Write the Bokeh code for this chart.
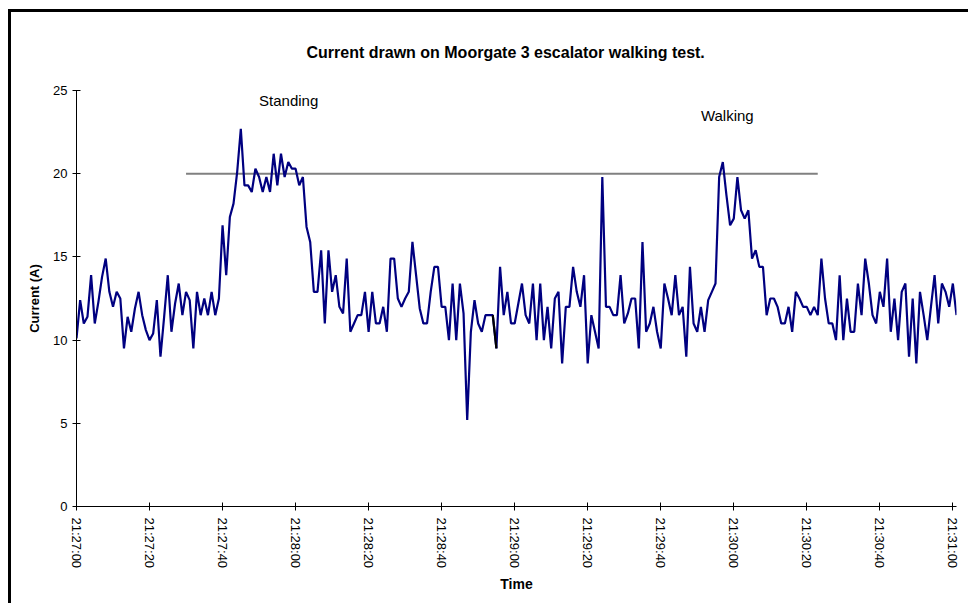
import numpy as np
from bokeh.plotting import figure
from bokeh.models import Range1d, FixedTicker, Label, ColumnDataSource
from bokeh.embed import file_html
from bokeh.resources import INLINE

# ---------------- data ----------------
start_time = "21:27:00"
sample_interval_s = 1

# current (A), one sample per second
current_min1 = [10.1, 12.4, 11.0, 11.4, 13.9, 11.0, 12.3, 13.8, 14.9, 12.9,
                12.0, 12.9, 12.5, 9.5, 11.4, 10.5, 11.9, 12.9, 11.5, 10.6,
                10.0, 10.4, 12.4, 9.0, 11.4, 13.9, 10.5, 12.2, 13.4, 11.5,
                12.9, 12.4, 9.5, 12.9, 11.5, 12.5, 11.5, 12.9, 11.5, 12.5,
                16.9, 13.9, 17.4, 18.2, 20.1, 22.7, 19.3, 19.3, 18.9, 20.3,
                19.8, 18.9, 19.8, 18.9, 21.2, 19.3, 21.2, 19.8, 20.7, 20.3]
current_min2 = [20.3, 19.3, 19.8, 16.8, 15.9, 12.9, 12.9, 15.4, 11.0, 15.4,
                12.9, 13.9, 12.0, 11.6, 14.9, 10.5, 11.0, 11.5, 11.5, 12.9,
                10.5, 12.9, 11.0, 11.0, 12.0, 10.5, 14.9, 14.9, 12.5, 12.0,
                12.5, 12.9, 15.9, 13.9, 11.9, 11.0, 11.0, 12.9, 14.4, 14.4,
                12.0, 12.0, 10.0, 13.4, 10.0, 13.4, 11.6, 5.2, 10.5, 12.4,
                11.0, 10.5, 11.5, 11.5, 11.5, 9.5, 14.4, 11.5, 12.9, 11.0]
current_min3 = [11.0, 12.2, 13.4, 11.5, 11.0, 13.4, 10.0, 13.4, 10.0, 12.0,
                9.5, 12.5, 12.9, 8.6, 12.0, 12.0, 14.4, 12.9, 12.0, 13.9,
                8.6, 11.5, 10.5, 9.5, 19.8, 12.0, 12.0, 11.5, 11.5, 13.9,
                11.0, 11.6, 12.5, 12.5, 9.5, 15.9, 10.5, 11.0, 12.0, 10.5,
                9.5, 13.4, 12.5, 11.5, 13.9, 11.5, 12.0, 9.0, 14.4, 11.0,
                10.5, 12.0, 10.5, 12.4, 12.9, 13.4, 19.8, 20.7, 18.7, 16.9]
current_min4 = [17.3, 19.8, 17.8, 17.3, 17.8, 14.9, 15.4, 14.4, 14.4, 11.5,
                12.5, 12.5, 12.0, 11.0, 11.0, 12.0, 10.5, 12.9, 12.5, 12.0,
                12.0, 11.5, 12.0, 11.5, 14.9, 12.5, 11.0, 11.0, 10.0, 13.9,
                10.0, 12.5, 10.5, 10.5, 13.4, 11.5, 14.9, 13.4, 11.5, 11.0,
                12.9, 12.0, 14.9, 10.5, 12.5, 10.0, 12.9, 13.4, 9.0, 12.5,
                8.6, 12.9, 11.5, 10.0, 12.0, 13.9, 11.0, 13.4, 12.9, 12.0,
                13.4, 11.5]

# short stretch drawn in black in the original
black_segment_times = ["21:28:54", "21:28:55"]

tick_labels = ["21:27:00", "21:27:20", "21:27:40", "21:28:00", "21:28:20",
               "21:28:40", "21:29:00", "21:29:20", "21:29:40", "21:30:00",
               "21:30:20", "21:30:40", "21:31:00"]
y_ticks = [0, 5, 10, 15, 20, 25]

limit_times = ["21:27:30", "21:30:23"]
limit_values = [20, 20]

note_texts = ["Standing", "Walking"]
note_times = ["21:27:50", "21:29:51"]
note_values = [24.4, 23.5]

title_text = "Current drawn on Moorgate 3 escalator walking test."
x_title = "Time"
y_title = "Current (A)"


def to_sec(s):
    h, m, sec = map(int, s.split(":"))
    return h * 3600 + m * 60 + sec


t0 = to_sec(start_time)
current = current_min1 + current_min2 + current_min3 + current_min4
secs = [i * sample_interval_s for i in range(len(current))]
tick_pos = [to_sec(s) - t0 for s in tick_labels]

FONT = "Liberation Sans"

p = figure(width=960, height=594, output_backend="svg", toolbar_location=None,
           x_range=Range1d(0, secs[-1]), y_range=Range1d(0, 25),
           min_border_left=65, min_border_right=15, min_border_top=77,
           min_border_bottom=100,
           styles={"margin-left": "8px", "margin-top": "9px",
                   "border-left": "3px solid black", "border-top": "3px solid black"})

p.outline_line_color = None
p.grid.visible = False
p.background_fill_color = "white"
p.border_fill_color = "white"

# title
p.title.text = title_text
p.title.align = "left"
p.title.offset = 230
p.title.text_font = FONT
p.title.text_font_size = "16px"
p.title.text_font_style = "bold"
p.title.text_color = "black"
p.title.standoff = 59

# threshold line
p.line([to_sec(s) - t0 for s in limit_times], limit_values,
       line_color="#808080", line_width=2)

# main series
src = ColumnDataSource(dict(x=secs, y=current))
p.line("x", "y", source=src, line_color="#000080", line_width=2.2)

# black segment
i0 = (to_sec(black_segment_times[0]) - t0) // sample_interval_s
i1 = (to_sec(black_segment_times[1]) - t0) // sample_interval_s
p.line(secs[i0:i1 + 1], current[i0:i1 + 1], line_color="black", line_width=2.2)

# annotations
for txt, tm, val in zip(note_texts, note_times, note_values):
    p.add_layout(Label(x=to_sec(tm) - t0, y=val, text=txt, text_font=FONT,
                       text_font_size="15px", text_color="black",
                       text_align="left", text_baseline="alphabetic"))

# axes
xa = p.xaxis[0]
xa.ticker = FixedTicker(ticks=tick_pos)
xa.major_label_overrides = {pos: lab for pos, lab in zip(tick_pos, tick_labels)}
xa.major_label_orientation = "vertical"
xa.minor_tick_line_color = None
xa.major_tick_in = 4
xa.major_tick_out = 4
xa.major_label_standoff = 7
xa.axis_line_color = "black"
xa.major_tick_line_color = "black"
xa.major_label_text_font = FONT
xa.major_label_text_font_size = "13px"
xa.major_label_text_color = "black"
xa.axis_label = x_title
xa.axis_label_text_font = FONT
xa.axis_label_text_font_size = "14px"
xa.axis_label_text_font_style = "bold"
xa.axis_label_text_color = "black"
xa.axis_label_standoff = 5

ya = p.yaxis[0]
ya.ticker = FixedTicker(ticks=y_ticks)
ya.minor_tick_line_color = None
ya.major_tick_in = 4
ya.major_tick_out = 4
ya.major_label_standoff = 5
ya.axis_line_color = "black"
ya.major_tick_line_color = "black"
ya.major_label_text_font = FONT
ya.major_label_text_font_size = "13px"
ya.major_label_text_color = "black"
ya.axis_label = y_title
ya.axis_label_text_font = FONT
ya.axis_label_text_font_size = "13px"
ya.axis_label_text_font_style = "bold"
ya.axis_label_text_color = "black"
ya.axis_label_standoff = 8

open("out.html", "w").write(file_html(p, INLINE))
